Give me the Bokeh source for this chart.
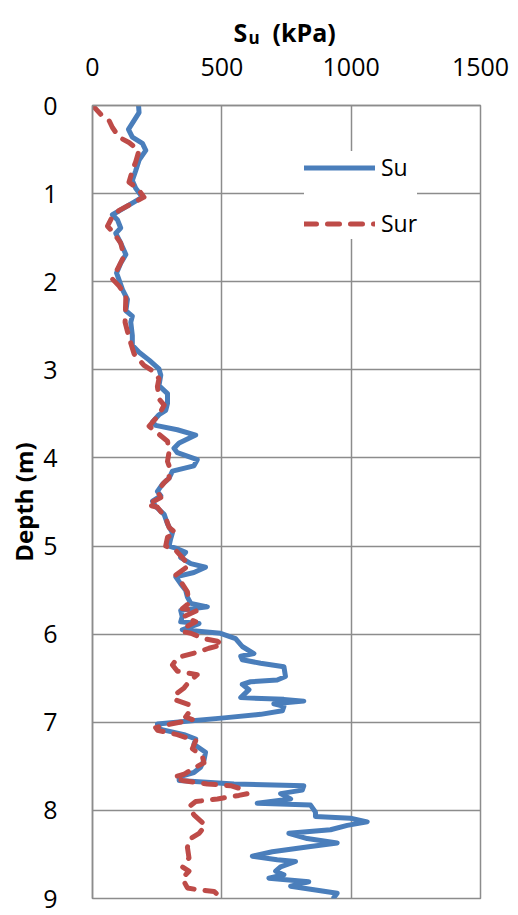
from bokeh.plotting import figure
from bokeh.models import Range1d, FixedTicker, Legend, LegendItem
from bokeh.layouts import column
from bokeh.core.properties import value
from bokeh.embed import file_html
from bokeh.resources import INLINE

# ---- data ----
su_depth = [0.00, 0.08, 0.27, 0.36, 0.43, 0.51, 0.62, 0.74, 0.85, 0.94, 1.04, 1.15, 1.24, 1.30,
            1.39, 1.45, 1.56, 1.69, 1.79, 1.90, 2.09, 2.20, 2.33, 2.39, 2.46, 2.61, 2.72, 2.80,
            2.89, 2.99, 3.06, 3.18, 3.27, 3.38, 3.46, 3.51, 3.59, 3.63, 3.68, 3.74, 3.83, 3.89,
            3.94, 4.02, 4.09, 4.15, 4.23, 4.30, 4.38, 4.43, 4.49, 4.55, 4.64, 4.75, 4.85, 4.92,
            5.00, 5.03, 5.07, 5.13, 5.20, 5.24, 5.30, 5.35, 5.43, 5.50, 5.58, 5.65, 5.69, 5.73,
            5.80, 5.86, 5.88, 5.95, 5.99, 6.05, 6.14, 6.22, 6.25, 6.29, 6.33, 6.37, 6.48, 6.52,
            6.54, 6.57, 6.63, 6.72, 6.74, 6.76, 6.79, 6.82, 6.87, 6.91, 6.95, 6.99, 7.02, 7.08,
            7.14, 7.19, 7.25, 7.34, 7.43, 7.51, 7.57, 7.62, 7.66, 7.70, 7.72, 7.77, 7.81, 7.87,
            7.92, 7.94, 8.02, 8.07, 8.09, 8.13, 8.17, 8.22, 8.26, 8.32, 8.37, 8.41, 8.47, 8.52,
            8.56, 8.58, 8.64, 8.69, 8.73, 8.77, 8.81, 8.86, 8.90, 8.94, 8.99]
su_kpa = [178, 180, 139, 154, 193, 206, 180, 167, 154, 167, 193, 129, 77, 97,
          109, 90, 109, 129, 109, 93, 116, 135, 129, 154, 148, 154, 154, 180,
          219, 257, 264, 257, 290, 290, 283, 257, 232, 244, 328, 399, 335, 315,
          328, 405, 392, 309, 296, 270, 251, 264, 232, 244, 277, 290, 309, 302,
          296, 328, 360, 341, 380, 437, 392, 322, 341, 360, 367, 380, 444, 341,
          347, 341, 412, 347, 495, 553, 579, 624, 573, 579, 650, 740, 746, 714,
          611, 579, 605, 573, 740, 817, 701, 740, 734, 650, 508, 354, 251, 264,
          354, 399, 392, 437, 431, 418, 392, 335, 335, 547, 817, 811, 727, 766,
          637, 843, 862, 862, 997, 1062, 985, 920, 759, 830, 946, 843, 695, 618,
          714, 785, 727, 708, 740, 682, 836, 766, 856, 946, 933]

sur_depth = [0.00, 0.10, 0.17, 0.25, 0.36, 0.42, 0.51, 0.64, 0.74, 0.87, 0.94, 1.04, 1.19, 1.26,
             1.37, 1.43, 1.56, 1.71, 1.82, 1.97, 2.05, 2.16, 2.46, 2.63, 2.82, 2.95, 3.01, 3.10,
             3.19, 3.33, 3.40, 3.51, 3.64, 3.70, 3.81, 3.93, 4.04, 4.09, 4.23, 4.28, 4.38, 4.45,
             4.53, 4.56, 4.68, 4.79, 4.85, 4.90, 5.00, 5.05, 5.13, 5.22, 5.33, 5.43, 5.52, 5.65,
             5.71, 5.73, 5.80, 5.86, 5.92, 5.97, 5.99, 6.05, 6.08, 6.12, 6.16, 6.20, 6.25, 6.27,
             6.35, 6.42, 6.46, 6.54, 6.61, 6.68, 6.74, 6.80, 6.86, 6.94, 6.97, 7.02, 7.06, 7.09,
             7.14, 7.21, 7.30, 7.38, 7.46, 7.53, 7.59, 7.62, 7.66, 7.70, 7.72, 7.76, 7.81, 7.83,
             7.87, 7.90, 7.96, 8.05, 8.17, 8.26, 8.33, 8.42, 8.54, 8.64, 8.69, 8.77, 8.88, 8.90,
             8.92, 8.97, 9.00]
sur_kpa = [0, 32, 64, 77, 103, 141, 180, 167, 154, 141, 174, 199, 103, 77,
           58, 77, 109, 122, 103, 77, 103, 129, 126, 141, 161, 199, 232, 257,
           251, 257, 277, 257, 219, 244, 290, 296, 290, 296, 296, 277, 251, 264,
           212, 251, 283, 296, 322, 290, 283, 322, 347, 373, 322, 347, 367, 373,
           347, 405, 354, 399, 360, 347, 380, 431, 483, 502, 450, 412, 347, 328,
           309, 328, 405, 373, 354, 322, 315, 373, 380, 360, 386, 302, 244, 251,
           328, 399, 386, 424, 431, 386, 354, 315, 347, 444, 534, 579, 598, 566,
           483, 399, 373, 392, 437, 412, 373, 367, 373, 347, 373, 347, 367, 405,
           470, 489, 480]

x_ticks = [0, 500, 1000, 1500]
y_ticks = [0, 1, 2, 3, 4, 5, 6, 7, 8, 9]
series_names = ["Su", "Sur"]
title_parts = ["S", "u", "(kPa)"]

BLUE = "#4a7ebb"
RED = "#be4b48"
GRID = "#8c8c8c"
FONT = "Open Sans"

W = 510
HEAD_H = 50
LEFT, RIGHT = 92, 30

# ---- header strip holding the axis title "S_u (kPa)"; its x range is in page pixels ----
head = figure(width=W, height=HEAD_H, frame_width=W - LEFT - RIGHT, frame_height=HEAD_H,
              title=None,
              x_range=Range1d(LEFT, W - RIGHT), y_range=Range1d(HEAD_H, 0),
              output_backend="svg", toolbar_location=None,
              min_border_left=LEFT, min_border_right=RIGHT,
              min_border_top=0, min_border_bottom=0)
head.axis.visible = False
head.grid.visible = False
head.outline_line_color = None
head.background_fill_color = "white"
head.border_fill_color = "white"
head.text(x=[233, 272], y=[31, 31], text=[title_parts[0], title_parts[2]],
          text_font=value(FONT), text_font_style="bold", text_font_size="25px",
          text_baseline="alphabetic", text_align="left", text_color="black")
head.text(x=[248], y=[37], text=[title_parts[1]],
          text_font=value(FONT), text_font_style="bold", text_font_size="17px",
          text_baseline="alphabetic", text_align="left", text_color="black")

# ---- main chart ----
p = figure(width=W, height=915 - HEAD_H,
           x_range=Range1d(0, 1500), y_range=Range1d(9, 0),
           x_axis_location="above",
           output_backend="svg", toolbar_location=None,
           min_border_left=LEFT, min_border_right=RIGHT,
           min_border_top=105 - HEAD_H, min_border_bottom=17)

p.background_fill_color = "white"
p.border_fill_color = "white"
p.outline_line_color = GRID
p.outline_line_width = 1.5

p.xaxis.ticker = FixedTicker(ticks=x_ticks)
p.yaxis.ticker = FixedTicker(ticks=y_ticks)
p.xgrid.ticker = FixedTicker(ticks=x_ticks)
p.ygrid.ticker = FixedTicker(ticks=y_ticks)
for g in (p.xgrid, p.ygrid):
    g.grid_line_color = GRID
    g.grid_line_width = 1.5

for ax in (p.xaxis, p.yaxis):
    ax.axis_line_color = GRID
    ax.axis_line_width = 1.5
    ax.major_tick_line_color = None
    ax.minor_tick_line_color = None
    ax.major_label_text_font = FONT
    ax.major_label_text_font_size = "25px"
    ax.major_label_text_color = "black"
p.xaxis.major_label_standoff = 24
p.yaxis.major_label_standoff = 29

p.yaxis.axis_label = "Depth (m)"
p.yaxis.axis_label_text_font = FONT
p.yaxis.axis_label_text_font_style = "bold"
p.yaxis.axis_label_text_font_size = "24px"
p.yaxis.axis_label_text_color = "black"
p.yaxis.axis_label_standoff = 0

r_su = p.line(su_kpa, su_depth, line_color=BLUE, line_width=5,
              line_join="round", line_cap="round")
r_sur = p.line(sur_kpa, sur_depth, line_color=RED, line_width=5,
               line_dash="12 11", line_join="round", line_cap="round")

legend = Legend(items=[LegendItem(label=series_names[0], renderers=[r_su]),
                       LegendItem(label=series_names[1], renderers=[r_sur])],
                location=(212, 659),
                glyph_width=71, glyph_height=25, label_height=25,
                spacing=24, padding=10, label_standoff=6, margin=0,
                border_line_color=None, background_fill_color="white",
                background_fill_alpha=1.0,
                label_text_font=FONT, label_text_font_size="23px",
                label_text_color="black")
p.add_layout(legend, "center")

layout = column(head, p, spacing=0)
open("out.html", "w").write(file_html(layout, INLINE))
